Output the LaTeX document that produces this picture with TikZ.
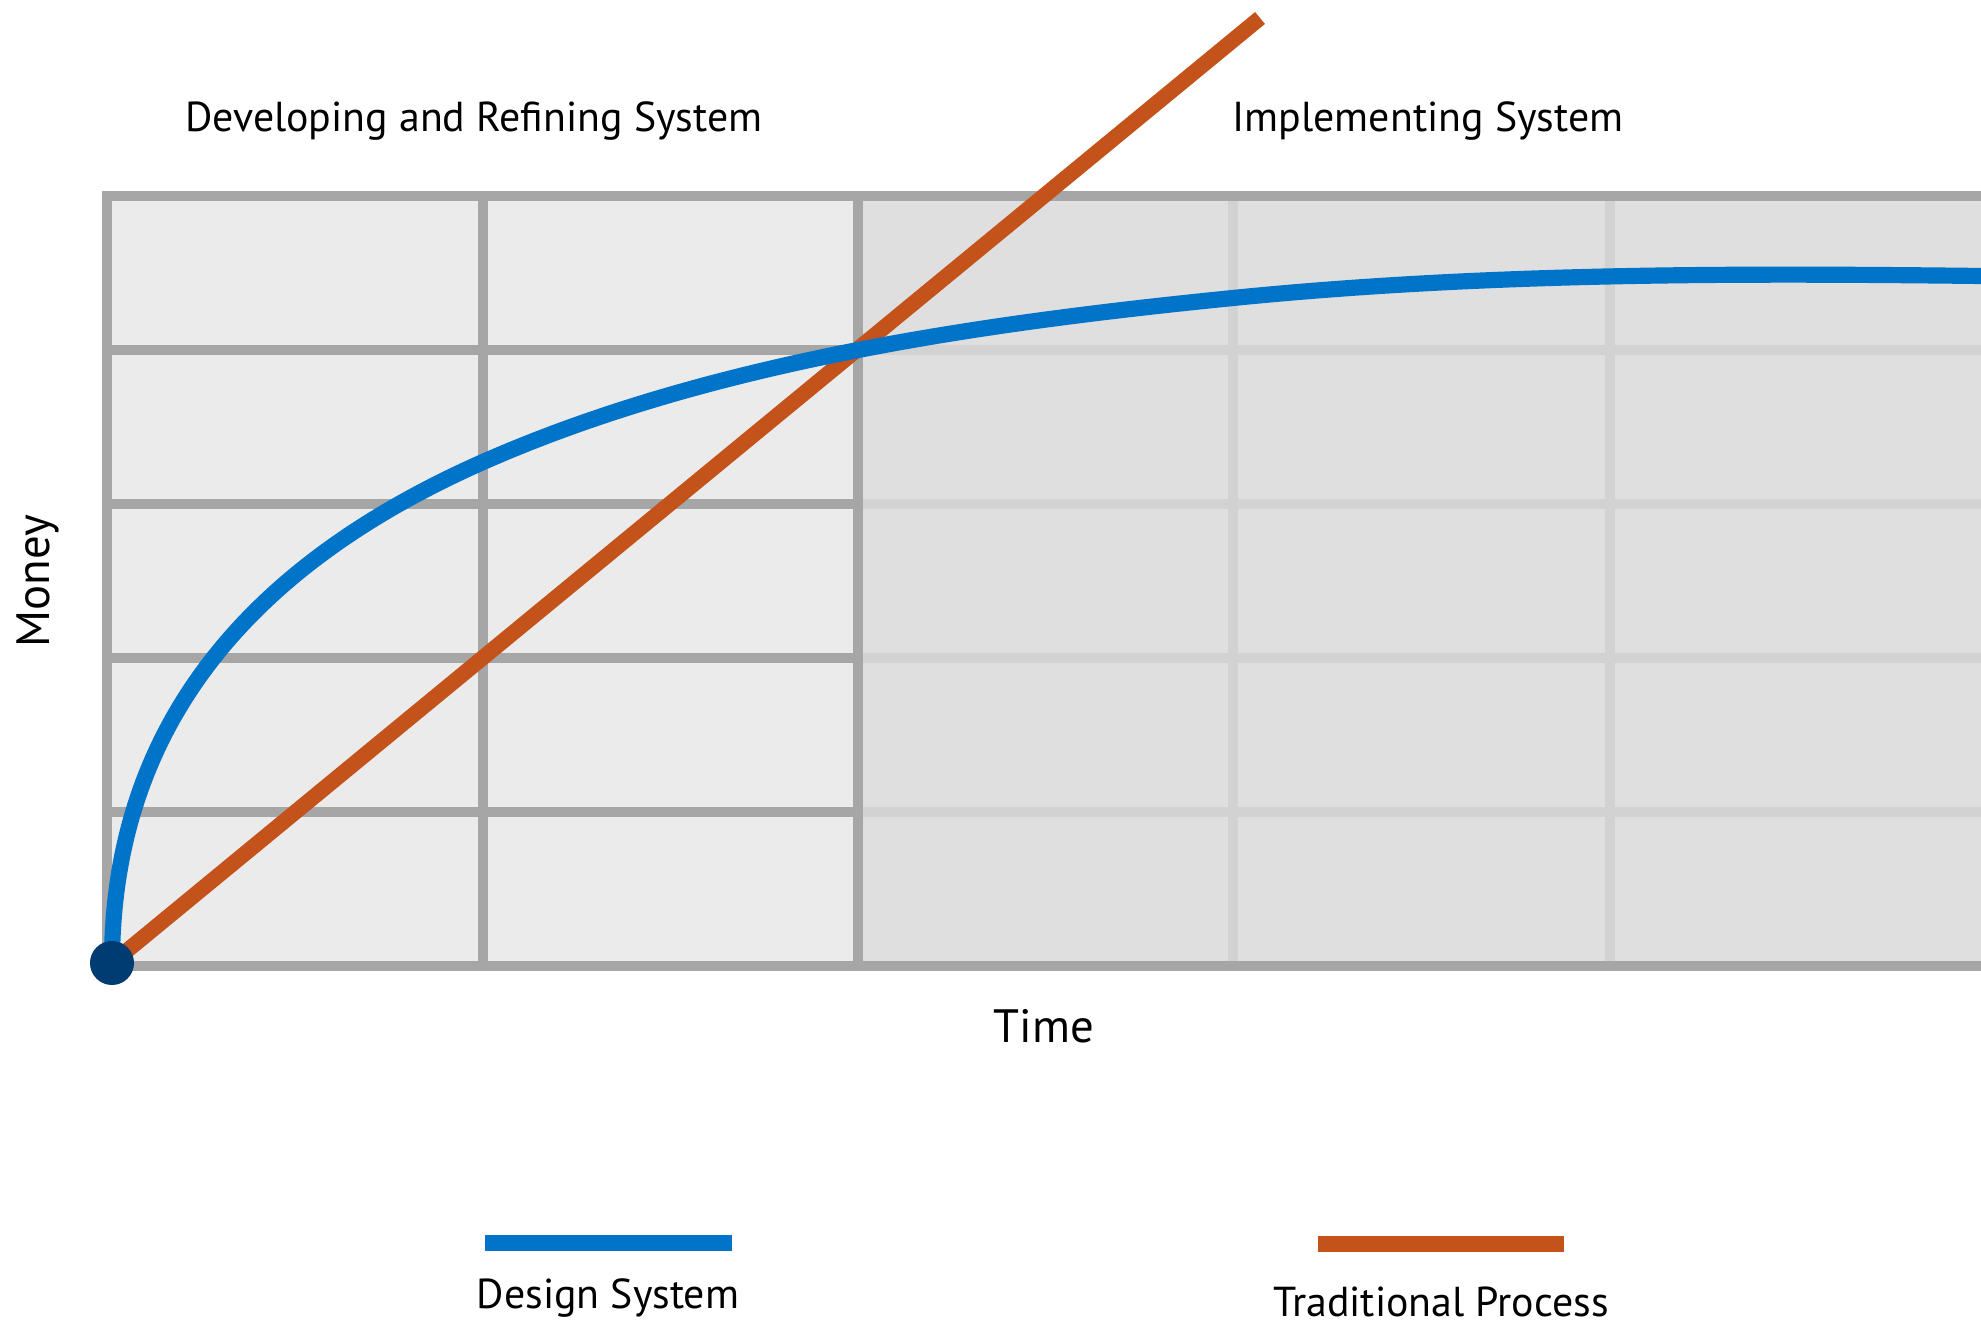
\documentclass[tikz,border=0pt]{standalone}
\usepackage{fontspec}
\setmainfont{PT Sans}
\usepackage{tikz}
\definecolor{gridline}{HTML}{A6A6A6}
\definecolor{gridlight}{HTML}{D2D2D2}
\definecolor{devfill}{HTML}{EBEBEB}
\definecolor{implfill}{HTML}{DFDFDF}
\definecolor{designblue}{HTML}{0074C8}
\definecolor{tradorange}{HTML}{C3531B}
\definecolor{dotnavy}{HTML}{003C71}
\tikzset{
every picture/.style={x=0.01cm, y=-0.01cm},
%%%%%%%%%%  Node styles
dotnode/.style={fill=dotnavy,circle,minimum size=0.44cm, inner sep=0pt, outer
sep=0},
label text/.style={font=\fontsize{11.9}{14}\selectfont, anchor=base, inner sep=0pt},
axis text/.style={font=\fontsize{13.3}{16}\selectfont, anchor=base, inner sep=0pt},
%%%% different line styles:
frame/.style={draw=gridline, line width=2.85pt},
light grid/.style={draw=gridlight, line width=2.85pt},
design/.style={draw=designblue, line width=4.6pt},
traditional/.style={draw=tradorange, line width=4.4pt},
legend bar/.style={line width=4.8pt},
%%%%%%% Fill styles %%%%%%%%%%%%%%%
develop/.style={fill=devfill},
implement/.style={fill=implfill}
}

\begin{document}
\begin{tikzpicture}
\useasboundingbox (0,0) rectangle (1981,1325);
%%%% two phases
\fill[develop] (107,196) rectangle (858,966);
\fill[implement] (858,196) rectangle (1990,966);
\foreach \y in {350,504,658,812} {
  \draw[light grid] (858,\y) -- (1990,\y);
  \draw[frame] (107,\y) -- (858,\y);
}
\foreach \x in {1233,1610}
  \draw[light grid] (\x,196) -- (\x,966);
\draw[frame] (483,196) -- (483,966);
\draw[frame] (858,196) -- (858,966);
\draw[frame] (1990,196) -- (107,196) -- (107,966) -- (1990,966);
%%%% curves
\coordinate (origin) at (112,963);
\coordinate (tradEnd) at (1260,18);
\draw[traditional] (origin) -- (tradEnd);
\draw[design] (origin) .. controls (112,700) and (282,551) .. (483,462)
  .. controls (712,361) and (984,323) .. (1233,298)
  .. controls (1482,273) and (1731,273) .. (1981,276);
\node[dotnode] (start) at (origin) {};
%%%% labels
\node[label text] (dev) at (474,132) {Developing and Refining System};
\node[label text] (impl) at (1428,132) {Implementing System};
\node[axis text] (time) at (1044,1043) {Time};
\node[axis text, rotate=90] (money) at (50,581) {Money};
%%%% legend
\coordinate (dsL) at (485,1243);
\coordinate (dsR) at (732,1243);
\coordinate (tpL) at (1318,1244);
\coordinate (tpR) at (1564,1244);
\draw[legend bar, designblue] (dsL) -- (dsR);
\draw[legend bar, tradorange] (tpL) -- (tpR);
\node[label text] (dslabel) at (608,1308) {Design System};
\node[label text] (tplabel) at (1441,1316) {Traditional Process};
\end{tikzpicture}
\end{document}
